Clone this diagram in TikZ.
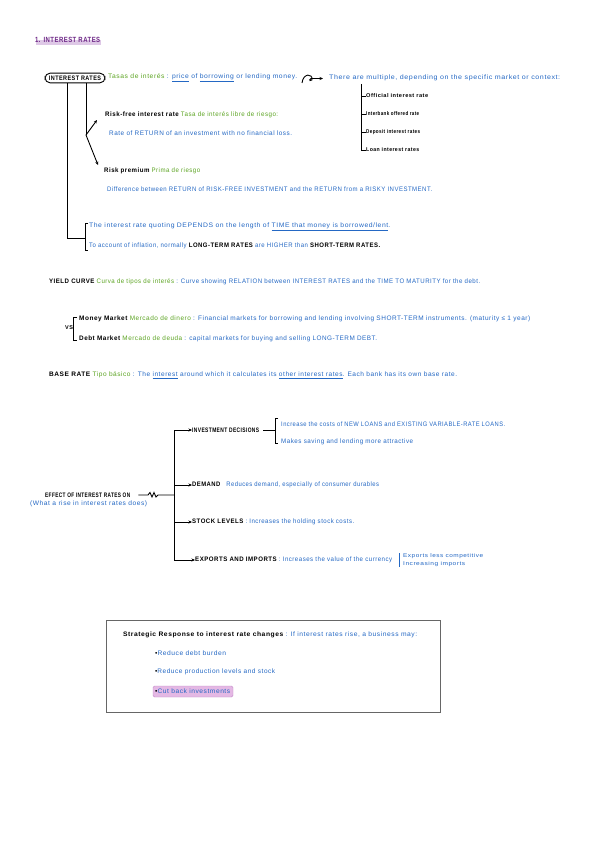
\documentclass[tikz,border=0pt]{standalone}
\usepackage{fontspec}
\setmainfont{Liberation Sans}[LetterSpace=8]
\usetikzlibrary{arrows.meta}
\definecolor{blu}{RGB}{36,104,196}
\definecolor{grn}{RGB}{92,164,34}
\definecolor{purp}{RGB}{110,40,135}
\definecolor{purpl}{RGB}{222,200,230}
\definecolor{hlpink}{RGB}{228,184,228}
\definecolor{hlbord}{RGB}{196,140,200}
\newcommand{\fw}[2]{\resizebox{#1pt}{\height}{#2}}
\newcommand{\bk}[1]{{\color{black}\bfseries #1}}
\newcommand{\gr}[1]{{\color{grn}#1}}
\begin{document}
\begin{tikzpicture}[x=1pt,y=-1pt,
  txt/.style={anchor=west,inner sep=0pt,font=\fontsize{6.5}{7.5}\selectfont,text=blu},
  small/.style={txt,font=\fontsize{5.5}{6.5}\selectfont},
  ln/.style={line width=0.9pt,black},
  arr/.style={ln,-{Stealth[length=3.5pt,width=3pt]}}]
\useasboundingbox[fill=white] (0,0) rectangle (600,848);

% title
\fill[purpl] (36,40.5) rectangle (101,45);
\node[txt,text=purp,font=\fontsize{7.5}{8.5}\selectfont] (title) at (35,40) {\fw{65}{\bfseries 1. INTEREST RATES}};

% interest rates box
\node[draw,ln,rounded corners=5pt,inner xsep=4pt,inner ysep=2.5pt,font=\fontsize{6.5}{7.5}\selectfont] (irbox) at (75,78) {\fw{52}{\bfseries INTEREST RATES}};
\node[txt] (def) at (108,78) {\fw{189}{\gr{Tasas de interés} : \underline{price} of \underline{borrowing} or lending money.}};
\draw[arr] (302,83) .. controls (303,73) and (313,73) .. (312,80) .. controls (311,82) and (308,80) .. (311,78.5) -- (323,78.5);
\node[txt] (multi) at (329,78) {\fw{231}{There are multiple, depending on the specific market or context:}};

% list
\node[small,text=black] (official) at (366,96) {\fw{62}{\bfseries Official interest rate}};
\node[small,text=black] (interbank) at (366,114) {\fw{53}{\bfseries Interbank offered rate}};
\node[small,text=black] (deposit) at (366,132) {\fw{54}{\bfseries Deposit interest rates}};
\node[small,text=black] (loan) at (366,150) {\fw{53}{\bfseries Loan interest rates}};
\coordinate (lt) at (361,84);
\draw[ln] (lt) |- (loan.west);
\draw[ln] (lt|-official.west) -- (official.west);
\draw[ln] (lt|-interbank.west) -- (interbank.west);
\draw[ln] (lt|-deposit.west) -- (deposit.west);

% risk free / premium
\node[txt] (rf) at (105,115) {\fw{173}{\bk{Risk-free interest rate} \gr{Tasa de interés libre de riesgo:}}};
\node[txt] (rfdef) at (109,133) {\fw{183}{Rate of RETURN of an investment with no financial loss.}};
\node[txt] (rp) at (104,171) {\fw{96}{\bk{Risk premium} \gr{Prima de riesgo}}};
\node[txt] (rpdef) at (107,189) {\fw{325}{Difference between RETURN of RISK-FREE INVESTMENT and the RETURN from a RISKY INVESTMENT.}};
\coordinate (fk) at (86,135);
\coordinate (fkA) at (97,120);
\coordinate (fkB) at (98,165);
\draw[ln] (irbox.south-|fk) -- (fk);
\draw[arr] (fk) -- (fkA);
\draw[arr] (fk) -- (fkB);

% quoting
\node[txt] (quote1) at (89,227) {\fw{301}{The interest rate quoting DEPENDS on the length of \underline{TIME that money is borrowed/lent}.}};
\node[txt] (quote2) at (89,246) {\fw{291}{To account of inflation, normally \bk{LONG-TERM RATES} are HIGHER than \bk{SHORT-TERM RATES.}}};
\coordinate (qa) at (85,223);
\coordinate (qb) at (85,250);
\coordinate (qm) at (85,238);
\draw[ln] (88,223) -- (qa) -- (qb) -- (88,250);
\draw[ln] (irbox.south-|67,0) |- (qm);

% yield curve
\node[txt] (yield) at (49,282) {\fw{431}{\bk{YIELD CURVE} \gr{Curva de tipos de interés} : Curve showing RELATION between INTEREST RATES and the TIME TO MATURITY for the debt.}};

% money / debt market
\node[small,text=black] (vs) at (65,328) {\bfseries VS};
\node[txt] (money) at (79,319) {\fw{451}{\bk{Money Market} \gr{Mercado de dinero} : Financial markets for borrowing and lending involving SHORT-TERM instruments. (maturity ≤ 1 year)}};
\node[txt] (debt) at (79,339) {\fw{298}{\bk{Debt Market} \gr{Mercado de deuda} : capital markets for buying and selling LONG-TERM DEBT.}};
\coordinate (ma) at (73,317);
\coordinate (mb) at (73,340);
\draw[ln] (77,317) -- (ma) -- (mb) -- (77,340);

% base rate
\node[txt] (base) at (49,375) {\fw{408}{\bk{BASE RATE} \gr{Tipo básico} : The \underline{interest} around which it calculates its \underline{other interest rates}. Each bank has its own base rate.}};

% effect tree
\node[txt,text=black] (effect) at (45,495) {\fw{85}{\bfseries EFFECT OF INTEREST RATES ON}};
\node[txt] (effect2) at (30,504) {\fw{117}{(What a rise in interest rates does)}};
\coordinate (trunk) at (174,495);
\coordinate (ttop) at (174,430);
\coordinate (tbot) at (174,560);
\draw[ln] ([xshift=8pt]effect.east) -- (148,495) -- (150,492.5) -- (152,497) -- (154,492.5) -- (156,497) -- (158,495) -- (trunk);
\draw[ln] (ttop) -- (tbot);

\node[txt,text=black] (inv) at (192,430) {\fw{67}{\bfseries INVESTMENT DECISIONS}};
\node[txt] (dem) at (192,485) {\fw{187}{\bk{DEMAND}\quad Reduces demand, especially of consumer durables}};
\node[txt] (stock) at (192,522) {\fw{162}{\bk{STOCK LEVELS} : Increases the holding stock costs.}};
\node[txt] (exp) at (195,560) {\fw{197}{\bk{EXPORTS AND IMPORTS} : Increases the value of the currency}};
\draw[arr] (ttop) -- (inv.west);
\draw[arr] (trunk|-dem.west) -- (dem.west);
\draw[arr] (trunk|-stock.west) -- (stock.west);
\draw[arr] (tbot) -- (exp.west);

\node[txt] (inv1) at (281,424) {\fw{224}{Increase the costs of NEW LOANS and EXISTING VARIABLE-RATE LOANS.}};
\node[txt] (inv2) at (281,442) {\fw{132}{Makes saving and lending more attractive}};
\coordinate (ia) at (275,418);
\coordinate (ib) at (275,443);
\draw[ln] ([xshift=4pt]inv.east) -- (inv.east-|ia);
\draw[ln] (278,418) -- (ia) -- (ib) -- (278,443);

\node[small] (exp1) at (403,556) {\fw{80}{Exports less competitive}};
\node[small] (exp2) at (403,564.5) {\fw{62}{Increasing imports}};
\coordinate (ea) at (399,553);
\coordinate (eb) at (399,567);
\draw[line width=0.7pt,blu] (ea) -- (eb);

% strategic box
\node[draw=black!60,line width=1pt,minimum width=334pt,minimum height=92pt,inner sep=0pt] (box) at (273,666) {};
\node[txt] (strat) at (123,635) {\fw{294}{\bk{Strategic Response to interest rate changes} : If interest rates rise, a business may:}};
\node[txt] (b1) at (155,653) {\fw{71}{{\color{black}•}Reduce debt burden}};
\node[txt] (b2) at (155,672) {\fw{120}{{\color{black}•}Reduce production levels and stock}};
\fill[hlpink,draw=hlbord,rounded corners=1.5pt] (153,686) rectangle (233,697);
\node[txt] (b3) at (155,691) {\fw{75}{{\color{black}•}Cut back investments}};
\end{tikzpicture}
\end{document}
